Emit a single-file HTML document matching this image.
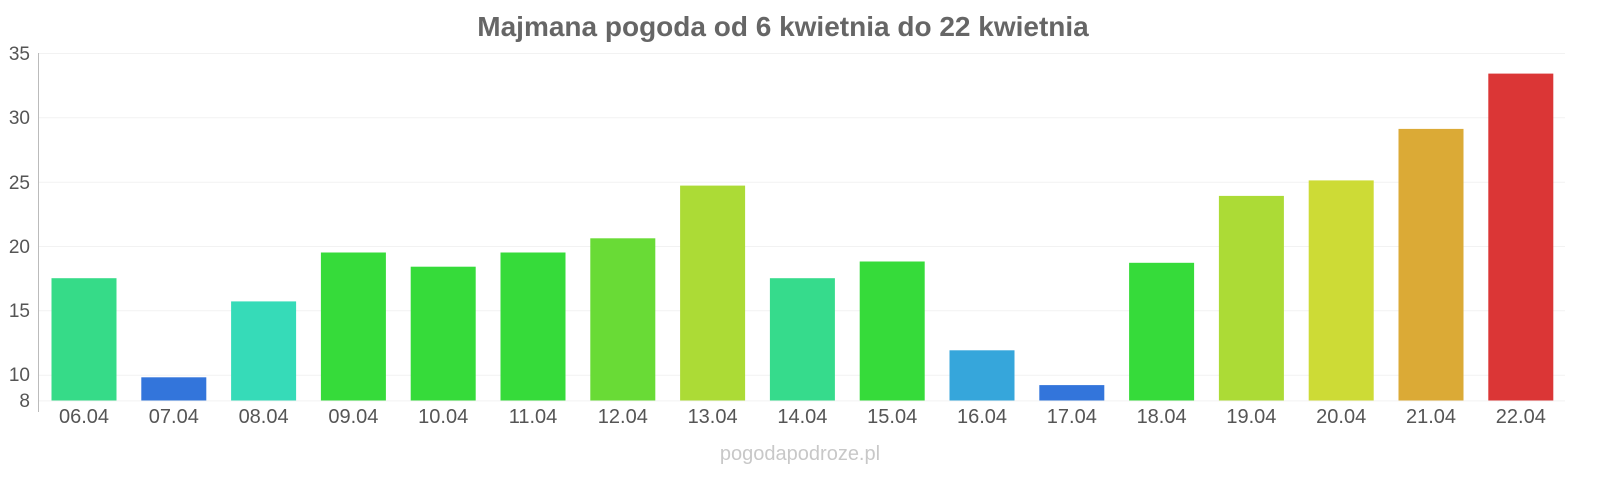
<!DOCTYPE html>
<html><head><meta charset="utf-8"><style>
html,body{margin:0;padding:0;background:#fff;}
svg text{font-family:"Liberation Sans",sans-serif;}
</style></head><body>
<svg width="1600" height="480" xmlns="http://www.w3.org/2000/svg">
<text x="783" y="36" text-anchor="middle" font-size="28" font-weight="bold" fill="#666">Majmana pogoda od 6 kwietnia do 22 kwietnia</text>
<g stroke="#f2f2f2" stroke-width="1">
<line x1="38" x2="1565" y1="53.5" y2="53.5"/>
<line x1="38" x2="1565" y1="117.8" y2="117.8"/>
<line x1="38" x2="1565" y1="182.2" y2="182.2"/>
<line x1="38" x2="1565" y1="246.5" y2="246.5"/>
<line x1="38" x2="1565" y1="310.8" y2="310.8"/>
<line x1="38" x2="1565" y1="375.2" y2="375.2"/>
<line x1="38" x2="1565" y1="400.9" y2="400.9"/>
</g>
<line x1="38.5" x2="38.5" y1="53" y2="412" stroke="#bbb" stroke-width="1"/>
<g font-size="19" fill="#555" text-anchor="end">
<text x="30" y="60">35</text>
<text x="30" y="124">30</text>
<text x="30" y="189">25</text>
<text x="30" y="253">20</text>
<text x="30" y="317">15</text>
<text x="30" y="381">10</text>
<text x="30" y="407">8</text>
</g>
<g>
<rect x="51.5" y="278.2" width="65" height="122.3" fill="#36db88"/>
<rect x="141.3" y="377.3" width="65" height="23.2" fill="#3375db"/>
<rect x="231.1" y="301.4" width="65" height="99.1" fill="#36dbb8"/>
<rect x="320.9" y="252.5" width="65" height="148" fill="#36db3a"/>
<rect x="410.7" y="266.7" width="65" height="133.8" fill="#36db3a"/>
<rect x="500.5" y="252.5" width="65" height="148" fill="#36db3a"/>
<rect x="590.3" y="238.3" width="65" height="162.2" fill="#69db36"/>
<rect x="680.1" y="185.6" width="65" height="214.9" fill="#acdb36"/>
<rect x="769.9" y="278.2" width="65" height="122.3" fill="#36db8c"/>
<rect x="859.7" y="261.5" width="65" height="139" fill="#36db3a"/>
<rect x="949.5" y="350.3" width="65" height="50.2" fill="#36a6db"/>
<rect x="1039.3" y="385.1" width="65" height="15.4" fill="#3375db"/>
<rect x="1129.1" y="262.8" width="65" height="137.7" fill="#36db3a"/>
<rect x="1218.9" y="195.9" width="65" height="204.6" fill="#acdb36"/>
<rect x="1308.7" y="180.4" width="65" height="220.1" fill="#cddb36"/>
<rect x="1398.5" y="128.9" width="65" height="271.6" fill="#dbaa36"/>
<rect x="1488.3" y="73.6" width="65" height="326.9" fill="#db3636"/>
</g>
<g font-size="20" fill="#555" text-anchor="middle">
<text x="84" y="423">06.04</text>
<text x="173.8" y="423">07.04</text>
<text x="263.6" y="423">08.04</text>
<text x="353.4" y="423">09.04</text>
<text x="443.2" y="423">10.04</text>
<text x="533" y="423">11.04</text>
<text x="622.8" y="423">12.04</text>
<text x="712.6" y="423">13.04</text>
<text x="802.4" y="423">14.04</text>
<text x="892.2" y="423">15.04</text>
<text x="982" y="423">16.04</text>
<text x="1071.8" y="423">17.04</text>
<text x="1161.6" y="423">18.04</text>
<text x="1251.4" y="423">19.04</text>
<text x="1341.2" y="423">20.04</text>
<text x="1431" y="423">21.04</text>
<text x="1520.8" y="423">22.04</text>
</g>
<text x="800" y="460" text-anchor="middle" font-size="20" fill="#c8c8c8">pogodapodroze.pl</text>
</svg>
</body></html>
